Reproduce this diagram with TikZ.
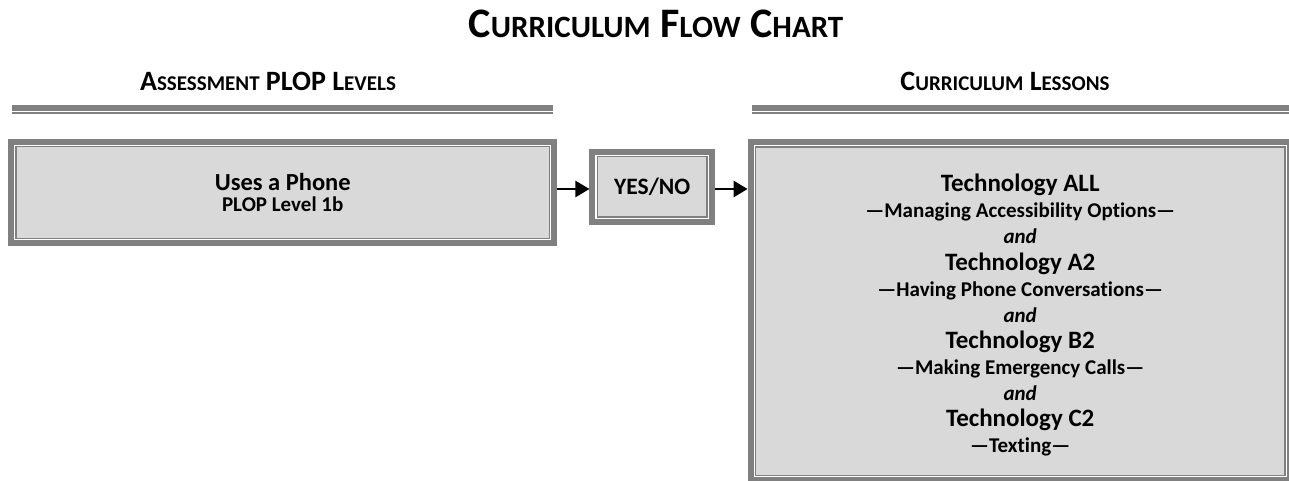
\documentclass[tikz,border=0pt]{standalone}
\usepackage{fontspec}
\setmainfont{Carlito}[Ligatures=NoCommon]
\usetikzlibrary{arrows.meta}
\definecolor{framegray}{RGB}{128,128,128}
\definecolor{panelfill}{RGB}{217,217,217}
% reduced capitals for the small-caps look of the headings
\newcommand\lowcaps[2]{{\fontsize{#1}{#1}\selectfont #2}}
% lesson sub-titles and connecting words
\newcommand\lessonsub[1]{{\fontsize{21}{26.1}\selectfont #1}}
\newcommand\lessonand[1]{{\fontsize{21}{26.1}\selectfont\itshape #1}}

\begin{document}
\begin{tikzpicture}[x=1pt, y=-1pt,
  panel/.style={draw=framegray, line width=1.7pt, fill=panelfill,
    inner sep=0pt, outer sep=0pt, align=center},
  frame/.style={draw=framegray, line width=6pt, inner sep=0pt, outer sep=3pt},
  heading/.style={anchor=base, font=\fontsize{28}{32}\selectfont\bfseries},
  thickrule/.style={draw=framegray, line width=5.7pt},
  thinrule/.style={draw=framegray, line width=2pt},
  flow/.style={line width=2.4pt, -{Triangle[length=14pt, width=16pt]}}
]
\clip (0,0) rectangle (1289,481);

% title
\node[anchor=base, font=\fontsize{42}{46}\selectfont\bfseries] (title) at (656,38)
  {C\lowcaps{31}{URRICULUM} F\lowcaps{31}{LOW} C\lowcaps{31}{HART}};

% column headings with their double rules
\node[heading] (hplop) at (268,91) {A\lowcaps{21}{SSESSMENT} PLOP L\lowcaps{21}{EVELS}};
\node[heading] (hlessons) at (1005,91) {C\lowcaps{21}{URRICULUM} L\lowcaps{21}{ESSONS}};
\draw[thickrule] (12,107.9) -- (553,107.9);
\draw[thinrule] (12,113) -- (553,113);
\draw[thickrule] (752,107.9) -- (1295,107.9);
\draw[thinrule] (752,113) -- (1295,113);

% assessment level
\node[panel, minimum width=533.7pt, minimum height=91.9pt,
  font=\fontsize{24.5}{24}\selectfont\bfseries] (plop) at (282.7,192.5)
  {Uses a Phone\\[-3pt]{\fontsize{21}{22}\selectfont PLOP Level 1b}};
\node[frame, minimum width=543.5pt, minimum height=101.7pt] (plopframe) at (plop.center) {};

% decision
\node[panel, minimum width=109.7pt, minimum height=60.7pt,
  font=\fontsize{23.5}{26}\selectfont\bfseries] (yn) at (652.2,186.8) {YES/NO};
\node[frame, minimum width=119.5pt, minimum height=70.5pt] (ynframe) at (yn.center) {};

% curriculum lessons
\node[panel, minimum width=529.3pt, minimum height=328.5pt] (lessons) at (1020.2,311.3) {};
\node[frame, minimum width=539.1pt, minimum height=338.3pt] (lessonsframe) at (lessons.center) {};
\node[align=center, inner sep=0pt, font=\fontsize{25}{26.1}\selectfont\bfseries]
  (lessonlist) at ([yshift=-4pt]lessons.center)
  {Technology ALL\\
   \lessonsub{—Managing Accessibility Options—}\\
   \lessonand{and}\\
   Technology A2\\
   \lessonsub{—Having Phone Conversations—}\\
   \lessonand{and}\\
   Technology B2\\
   \lessonsub{—Making Emergency Calls—}\\
   \lessonand{and}\\
   Technology C2\\
   \lessonsub{—Texting—}};

% connectors
\coordinate (row) at (0,189);
\draw[flow] (plopframe.east |- row) -- (ynframe.west |- row);
\draw[flow] (ynframe.east |- row) -- (lessonsframe.west |- row);
\end{tikzpicture}
\end{document}
